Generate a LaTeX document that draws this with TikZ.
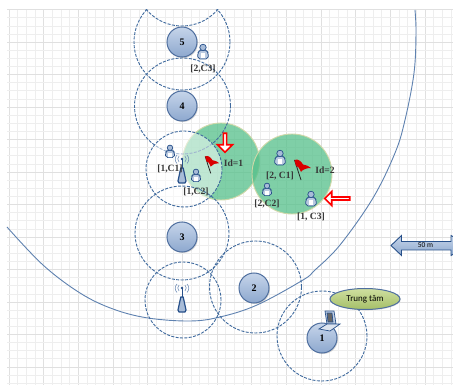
\documentclass[tikz,border=0pt]{standalone}
\usepackage{fontspec}
\setmainfont{Liberation Serif}
\newfontfamily\lblsans{Carlito}
\usetikzlibrary{shadows,shapes.arrows,shapes.geometric}
\definecolor{gridc}{HTML}{EEEEEE}
\definecolor{gridd}{HTML}{E0E0E0}
\definecolor{dashc}{HTML}{3F6A9E}
\definecolor{arcc}{HTML}{5F82B0}
\definecolor{ballt}{HTML}{C6D5EA}
\definecolor{ballb}{HTML}{8DA8CE}
\definecolor{ballf}{HTML}{A8BCD8}
\definecolor{balle}{HTML}{4F6F9F}
\definecolor{greenf}{HTML}{55C08A}
\definecolor{greene}{HTML}{CFD8A8}
\definecolor{darkb}{HTML}{27508A}
\definecolor{ellt}{HTML}{CFDFA0}
\definecolor{ellb}{HTML}{A5BF68}
\tikzset{
  rangecircle/.style={circle,draw=dashc,line width=0.9pt,dash pattern=on 3pt off 1.4pt,inner sep=0pt},
  ball/.style={circle,draw=balle,line width=1pt,minimum size=30pt,inner sep=0pt,top color=ballt,bottom color=ballb,
    drop shadow={opacity=.3,shadow xshift=1pt,shadow yshift=-1pt},font=\bfseries\fontsize{10}{10}\selectfont,text=black},
  zone/.style={circle,draw=greene,line width=0.9pt,fill=greenf,fill opacity=.75,draw opacity=1,inner sep=0pt},
  lbl/.style={font=\bfseries\fontsize{9.6}{10}\selectfont,text=black!78,inner sep=0pt},
  redarrow/.style={single arrow,draw=red,fill=white,line width=1.6pt,inner sep=0pt,single arrow head extend=3pt,single arrow head indent=0pt},
  person/.pic={
    \draw[darkb,line width=.7pt,fill=ballf!80!white,rounded corners=2pt] (-5,9)--(-5.5,3)--(-3,0)--(3,0)--(5.5,3)--(5,9)--cycle;
    \fill[white] (-2,3) rectangle (2,8);
    \draw[darkb,line width=.7pt,fill=ballf] (0,-2.6) circle (3.2pt);
  },
  redflag/.pic={
    \draw[black!85,line width=.8pt] (-4.5,-9)--(2,11);
    \fill[red!85!black] (-4.5,-9) .. controls (-1,-10.5) and (2,-8) .. (4,-4.5) .. controls (7,-4) and (10,-3) .. (12,-1) .. controls (8,-1) and (4,0) .. (2,3) .. controls (0,-2) and (-2,-3.5) .. (-3,-3) -- cycle;
  },
  towerpic/.pic={
    \draw[darkb,line width=1.2pt,fill=ballf,line join=round] (-1.2,-5)--(1.2,-5)--(4,8)--(3,10)--(-3,10)--(-4,8)--cycle;
    \fill[darkb] (0,-14) circle (1.3pt);
    \draw[darkb,line width=.8pt] (0,-14)--(0,-5);
    \draw[ballf!60!darkb,line width=.6pt] (-3,-17)arc(135:225:4.2pt) (3,-17)arc(45:-45:4.2pt) (-5,-18)arc(135:225:6pt) (5,-18)arc(45:-45:6pt);
  },
  laptoppic/.pic={
    \draw[darkb,line width=.7pt,fill=ballf!70!white] (-3,-9)--(6,-9)--(8,4)--(-1,4)--cycle;
    \draw[darkb,line width=.7pt,fill=black!60] (-1,-7)--(4,-7)--(5,2)--(0,2)--cycle;
    \draw[darkb,line width=.7pt,fill=ballf!40!white] (-1,4)--(12,4)--(2,11)--(-9,9)--cycle;
  }
}
\begin{document}
\begin{tikzpicture}[x=1pt,y=-1pt]
\useasboundingbox (0,0) rectangle (453,385);
\fill[white] (0,0) rectangle (453,385);
% grid
\foreach \i in {0,...,51}{
  \pgfmathsetmacro\gx{8.9+8.67*\i}
  \pgfmathtruncatemacro\ma{mod(\i,4)==0 ? 1:0}
  \ifnum\ma=1 \draw[gridd,line width=.7pt] (\gx,10)--(\gx,385);
  \else \draw[gridc,line width=.6pt] (\gx,10)--(\gx,385);\fi
}
\foreach \i in {0,...,46}{
  \pgfmathsetmacro\gy{9.6+8.12*\i}
  \pgfmathtruncatemacro\ma{mod(\i,4)==0 ? 1:0}
  \ifnum\ma=1 \draw[gridd,line width=.7pt] (7,\gy)--(453,\gy);
  \else \draw[gridc,line width=.6pt] (7,\gy)--(453,\gy);\fi
}
% green zones
\node[zone,minimum size=77pt] (zoneA) at (221,161.5) {};
\node[zone,minimum size=80pt] (zoneB) at (292,174) {};
% big arc
\draw[arcc,line width=.9pt] plot[smooth,tension=.6] coordinates {(415,10)(416,33)(414,73)(405,120)(395,153)(373,198)(340,245)(315,270)(303,280)(257,305)(220,317)(190,321)(148,318)(113,309)(80,293)(43,265)(7,227)};
% range circles
\begin{scope}
\clip (0,10) rectangle (453,385);
\node[rangecircle,minimum size=94pt] (r6) at (182,-21) {};
\node[rangecircle,minimum size=96pt] (r5) at (182,42) {};
\end{scope}
\node[rangecircle,minimum size=96pt] (r4) at (182.5,106) {};
\node[rangecircle,minimum size=76pt,fill=white,fill opacity=.5] (rc) at (184,169) {};
\node[rangecircle,minimum size=94pt] (r3) at (182,233) {};
\node[rangecircle,minimum size=76pt] (ra) at (183,300) {};
\node[rangecircle,minimum size=92pt] (r2) at (255.5,287) {};
\node[rangecircle,minimum size=90pt] (r1) at (322,336) {};
% numbered nodes
\node[ball] (n5) at (182,42) {5};
\node[ball] (n4) at (182,106) {4};
\node[ball] (n3) at (182,237) {3};
\node[ball] (n2) at (254,288) {2};
\node[ball] (n1) at (322,338) {1};
% persons
\pic at (203,50) {person};
\pic[scale=.85] at (170,150) {person};
\pic[scale=.85] at (196,174) {person};
\pic at (280,156) {person};
\pic[scale=.85] at (267,188) {person};
\pic at (311,197) {person};
% towers
\pic at (182,173) {towerpic};
\pic at (182,302) {towerpic};
% flags
\pic[scale=.85] at (209,164) {redflag};
\pic at (299,169) {redflag};
% laptop
\pic at (328,320) {laptoppic};
% labels
\node[lbl] (l23) at (203,69) {[2,C3]};
\node[lbl] (l11) at (170,168.5) {[1,C1]};
\node[lbl] (l12) at (196,192) {[1,C2]};
\node[lbl] (lid1) at (233.5,163) {Id=1};
\node[lbl] (lid2) at (325,170) {Id=2};
\node[lbl] (l21) at (280,176) {[2, C1]};
\node[lbl] (l22) at (267,204) {[2,C2]};
\node[lbl] (l13) at (311,217) {[1, C3]};
% red arrows
\node[redarrow,shape border rotate=270,minimum height=19pt,minimum width=15pt,single arrow head extend=3pt] (ad) at (225,142) {};
\node[redarrow,shape border rotate=180,minimum height=25pt,minimum width=14pt] (al) at (338,198.5) {};
% central ellipse
\node[ellipse,draw=balle,line width=1pt,top color=ellt,bottom color=ellb,minimum width=70pt,minimum height=21pt,inner sep=0pt,font=\lblsans\fontsize{9}{9}\selectfont,
  drop shadow={opacity=.25,shadow xshift=.8pt,shadow yshift=-.8pt}] (tt) at (365,299) {Trung tâm};
% scale arrow
\draw[darkb,line width=.9pt,top color=ballt,bottom color=ballb] (391,245.5)--(401.5,235.5)--(401.5,241.5)--(451,241.5)--(451,235.5)--(470,245.5)--(451,255.5)--(451,250)--(401.5,250)--(401.5,255.5)--cycle;
\node[font=\lblsans\fontsize{7.5}{7.5}\selectfont,inner sep=0pt] (sc) at (425.5,245.5) {50 m};
\end{tikzpicture}
\end{document}
